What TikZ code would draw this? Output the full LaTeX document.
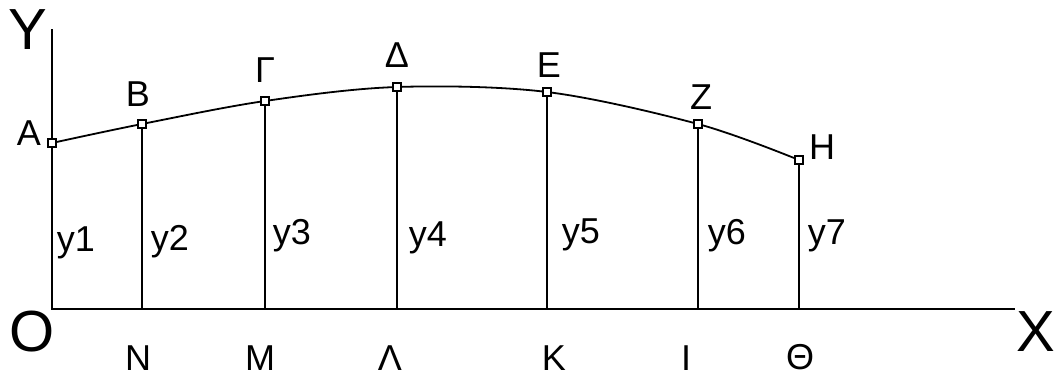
\documentclass[tikz,border=0pt]{standalone}
\usepackage{fontspec}
\setmainfont{Liberation Sans}
\usepackage{tikz}
\usetikzlibrary{calc}

\begin{document}
\begin{tikzpicture}[
  x=0.5pt, y=0.5pt,
  axis/.style={draw=black, line width=1pt},
  stem/.style={draw=black, line width=0.8pt},
  curve/.style={draw=black, line width=0.9pt},
  pnt/.style={rectangle, draw=black, fill=white, line width=0.7pt,
              minimum size=4pt, inner sep=0pt},
  lbl/.style={inner sep=0pt, font=\fontsize{18}{18}\selectfont},
  axlbl/.style={inner sep=0pt, font=\fontsize{29}{29}\selectfont},
]
\useasboundingbox (0,0) rectangle (1056,376);

%% Origin and axis ends
\coordinate (O)    at (52,67);
\coordinate (Ytop) at (52,347);
\coordinate (Xend) at (1015,67);

%% Points on the curve
\coordinate (pA) at (52,233);
\coordinate (pB) at (142,252);
\coordinate (pG) at (265,275);
\coordinate (pD) at (397,289);
\coordinate (pE) at (547,284);
\coordinate (pZ) at (698,252);
\coordinate (pH) at (799,216);

% Axes
\draw[axis] (Ytop) -- (O) -- (Xend);

% Ordinates down to the x axis
\foreach \p in {pB,pG,pD,pE,pZ,pH}
  \draw[stem] (\p) -- (\p |- O);

% Curve through the points
\draw[curve] plot[smooth, tension=0.55]
  coordinates {(pA) (pB) (pG) (pD) (pE) (pZ) (pH)};

% Markers
\foreach \p in {pA,pB,pG,pD,pE,pZ,pH}
  \node[pnt] (m\p) at (\p) {};

% Axis labels
\node[axlbl] (lY) at (28,346) {Y};
\node[axlbl] (lO) at (32,44)  {O};
\node[axlbl] (lX) at (1036,44) {X};

% Point labels
\node[lbl] (lA) at (29,243)  {Α};
\node[lbl] (lB) at (138,282) {Β};
\node[lbl] (lG) at (265,306) {Γ};
\node[lbl] (lD) at (397,321) {Δ};
\node[lbl] (lE) at (549,311) {Ε};
\node[lbl] (lZ) at (701,279) {Ζ};
\node[lbl] (lH) at (822,229) {Η};

% Feet labels
\node[lbl] (lN) at (138,18) {Ν};
\node[lbl] (lM) at (260,18) {Μ};
\node[lbl] (lL) at (390,18) {Λ};
\node[lbl] (lK) at (554,18) {Κ};
\node[lbl] (lI) at (686,18) {Ι};
\node[lbl] (lT) at (800,19) {Θ};

% Ordinate labels
\node[lbl] (y1) at (76,133)  {y1};
\node[lbl] (y2) at (170,134) {y2};
\node[lbl] (y3) at (292,140) {y3};
\node[lbl] (y4) at (428,138) {y4};
\node[lbl] (y5) at (581,141) {y5};
\node[lbl] (y6) at (727,140) {y6};
\node[lbl] (y7) at (827,140) {y7};

\end{tikzpicture}
\end{document}
